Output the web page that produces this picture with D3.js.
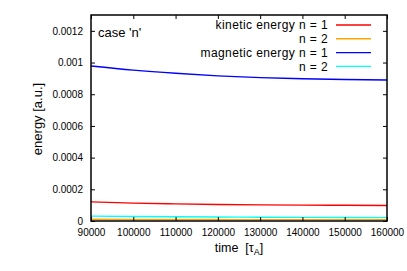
<!DOCTYPE html>
<html lang="en">
<head>
  <meta charset="UTF-8">
  <title>case n energy</title>
  <script src="https://cdn.jsdelivr.net/npm/d3@7"></script>
  <style>
    body { margin: 0; background: #fff; }
    text { font-family: "Liberation Sans", Arial, sans-serif; fill: #000; }
  </style>
</head>
<body>
  <svg width="407" height="271"></svg>
  <script>
    // values
    var times = [90000, 100000, 110000, 120000, 130000, 140000, 150000, 160000];
    var kinN1 = [0.000121, 0.000113, 0.000108, 0.000104, 0.000102, 0.000100, 0.000099, 0.000098];
    var kinN2 = [0.000011, 0.000010, 0.0000095, 0.000009, 0.0000088, 0.0000086, 0.0000085, 0.0000084];
    var magN1 = [0.000978, 0.000952, 0.000932, 0.000916, 0.000905, 0.000898, 0.000893, 0.000890];
    var magN2 = [0.0000310, 0.0000285, 0.0000265, 0.0000250, 0.0000238, 0.0000228, 0.0000220, 0.0000213];
    var xTicks = [90000, 100000, 110000, 120000, 130000, 140000, 150000, 160000];
    var yTicks = [0, 0.0002, 0.0004, 0.0006, 0.0008, 0.001, 0.0012];
    var yTickLabels = ['0', '0.0002', '0.0004', '0.0006', '0.0008', '0.001', '0.0012'];
    var legendLabels = ['kinetic energy n = 1', 'n = 2', 'magnetic energy n = 1', 'n = 2'];
    var colors = ['#ff0000', '#ffa500', '#0000ff', '#00ffff'];

    var svg = d3.select('svg');
    var margin = {top: 15, right: 20, bottom: 50, left: 91};
    var width = svg.attr('width') - margin.left - margin.right;
    var height = svg.attr('height') - margin.top - margin.bottom;
    var chart = svg.append('g')
      .attr('transform', 'translate(' + margin.left + ',' + margin.top + ')');

    var x = d3.scaleLinear().domain([90000, 160000]).range([0, width]);
    var y = d3.scaleLinear().domain([0, 0.0013]).range([height, 0]);

    var series = [kinN1, kinN2, magN1, magN2];
    var line = d3.line()
      .x(function(d, i) { return x(times[i]); })
      .y(function(d) { return y(d); })
      .curve(d3.curveMonotoneX);

    series.forEach(function(s, i) {
      chart.append('path')
        .datum(s)
        .attr('d', line)
        .attr('fill', 'none')
        .attr('stroke', colors[i])
        .attr('stroke-width', 1.4);
    });

    // axes with inward ticks
    var yAxisL = d3.axisLeft(y).tickValues(yTicks).tickSize(-4).tickPadding(8)
      .tickFormat(function(d, i) { return yTickLabels[i]; });
    var yAxisR = d3.axisRight(y).tickValues(yTicks).tickSize(-4).tickFormat('');
    var xAxisB = d3.axisBottom(x).tickValues(xTicks).tickSize(-4).tickPadding(8)
      .tickFormat(d3.format('d'));
    var xAxisT = d3.axisTop(x).tickValues(xTicks).tickSize(-4).tickFormat('');

    chart.append('g').attr('class', 'axis').call(yAxisL);
    chart.append('g').attr('class', 'axis').attr('transform', 'translate(' + width + ',0)').call(yAxisR);
    chart.append('g').attr('class', 'axis').attr('transform', 'translate(0,' + height + ')').call(xAxisB);
    chart.append('g').attr('class', 'axis').call(xAxisT);

    chart.selectAll('.axis path').remove();
    chart.selectAll('.axis text').filter(function() { return this.textContent === ''; }).remove();
    chart.selectAll('.axis line').attr('stroke', '#000').attr('stroke-width', 1);
    chart.selectAll('.axis text').style('font-size', '10px').attr('fill', '#000');

    chart.append('rect')
      .attr('width', width).attr('height', height)
      .attr('fill', 'none').attr('stroke', '#000').attr('stroke-width', 1.5);

    chart.append('text')
      .attr('x', 7).attr('y', 22)
      .style('font-size', '13px')
      .text("case 'n'");

    // legend
    var legend = chart.append('g');
    legendLabels.forEach(function(lab, i) {
      var ly = 10 + i * 13.8;
      legend.append('text')
        .attr('x', 237).attr('y', ly + 4.3)
        .attr('text-anchor', 'end')
        .style('font-size', '12px')
        .style('letter-spacing', '0.4px')
        .text(lab);
      legend.append('line')
        .attr('x1', 245).attr('x2', 280)
        .attr('y1', ly).attr('y2', ly)
        .attr('stroke', colors[i]).attr('stroke-width', 1.4);
    });

    // axis titles
    var xt = svg.append('text')
      .attr('x', margin.left + width / 2).attr('y', 252)
      .attr('text-anchor', 'middle')
      .style('font-size', '12.5px')
      .attr('xml:space', 'preserve');
    xt.append('tspan').text('time  [\u03c4');
    xt.append('tspan').attr('dy', 3).style('font-size', '9px').text('A');
    xt.append('tspan').attr('dy', -3).text(']');

    svg.append('text')
      .attr('transform', 'translate(42,119) rotate(-90)')
      .attr('text-anchor', 'middle')
      .style('font-size', '13px')
      .text('energy [a.u.]');
  </script>
</body>
</html>
